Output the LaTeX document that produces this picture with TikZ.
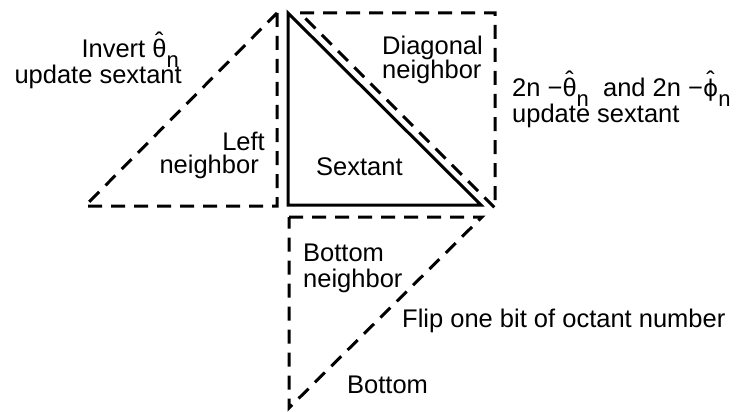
\documentclass[tikz,border=0pt]{standalone}
\usepackage{fontspec}
\setmainfont{Liberation Sans}
\newfontfamily\symfont{DejaVu Sans}
\newcommand\hatg[1]{\ooalign{#1\cr\hidewidth\raisebox{0.28em}{ˆ}\hidewidth\cr}}
\newcommand\subn{\raisebox{-0.36em}{\fontsize{22}{22}\selectfont n}}
\begin{document}
\begin{tikzpicture}[x=1pt,y=-1pt,
  lbl/.style={font=\fontsize{25.5}{29}\selectfont, inner sep=0pt},
  solidline/.style={line width=3pt, line join=miter},
  dashline/.style={line width=3pt, dash pattern=on 14pt off 9pt, line join=miter}]
\useasboundingbox (0,0) rectangle (745,412);
% sextant
\draw[solidline] (288,13) -- (288,205) -- (481,205) -- cycle;
% left neighbor
\draw[dashline] (277,13) -- (277,206) -- (85,206) -- cycle;
% diagonal neighbor
\draw[dashline] (300,13) -- (495,13) -- (495,208) -- cycle;
% bottom neighbor
\draw[dashline] (289,217) -- (482,217) -- (289,408) -- cycle;
% labels
\node[lbl, anchor=base east] (inv1) at (179,58) {Invert \hatg{θ}\subn};
\node[lbl, anchor=base east] (inv2) at (182,84) {update sextant};
\node[lbl, anchor=base east] (left1) at (265,150) {Left};
\node[lbl, anchor=base east] (left2) at (259,173) {neighbor};
\node[lbl, anchor=base west] (diag1) at (382,55) {Diagonal};
\node[lbl, anchor=base west] (diag2) at (382,78) {neighbor};
\node[lbl, anchor=base west] (two1) at (512,97) {2n −\hatg{θ}\subn\ \ and 2n −\hatg{{\symfont\fontsize{23}{23}\selectfont ϕ}}\subn};
\node[lbl, anchor=base west] (two2) at (512,123) {update sextant};
\node[lbl, anchor=base west] (sext) at (316,175) {Sextant};
\node[lbl, anchor=base west] (bot1) at (303,261) {Bottom};
\node[lbl, anchor=base west] (bot2) at (303,287) {neighbor};
\node[lbl, anchor=base west] (flip) at (402,327) {Flip one bit of octant number};
\node[lbl, anchor=base west] (bot3) at (347,393) {Bottom};
\end{tikzpicture}
\end{document}
